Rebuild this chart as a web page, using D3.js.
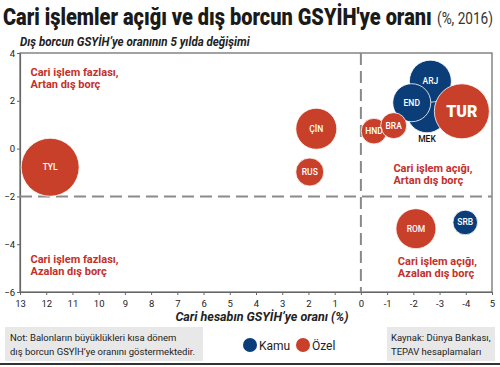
<!DOCTYPE html>
<html lang="tr">
<head>
  <meta charset='utf-8'>
  <title>Cari işlemler açığı</title>
  <script src="https://d3js.org/d3.v7.min.js"></script>
  <style>
    body { margin: 0; background: #fff; }
    svg { display: block; font-family: "Open Sans", "DejaVu Sans", sans-serif; }
  </style>
</head>
<body>
<script>
  // ulke kodlari, cari hesap / GSYIH, dis borc degisimi, balon buyuklugu
  var codes   = ["TYL", "ÇİN", "RUS", "HND", "BRA", "MEK", "END", "ARJ", "TUR", "ROM", "SRB"];
  var current = [11.85, 1.7, 1.95, -0.5, -1.25, -2.52, -1.94, -2.65, -3.85, -2.1, -3.98];
  var debt    = [-0.78, 0.83, -0.98, 0.73, 0.96, 1.5, 1.92, 2.82, 1.56, -3.35, -3.09];
  var size    = [29, 20.5, 14, 12.8, 13, 20, 19, 21, 27.5, 20, 12.3];
  var sector  = ["Özel", "Özel", "Özel", "Özel", "Özel", "Kamu", "Kamu", "Kamu", "Özel", "Özel", "Kamu"];

  var xTicks = [13, 12, 11, 10, 9, 8, 7, 6, 5, 4, 3, 2, 1, 0, -1, -2, -3, -4, -5];
  var yTicks = [4, 2, 0, -2, -4, -6];

  var quadrants = [
    { lines: ["Cari işlem fazlası,", "Artan dış borç"], x: 12.6, y: 3.05 },
    { lines: ["Cari işlem fazlası,", "Azalan dış borç"], x: 12.6, y: -4.8 },
    { lines: ["Cari işlem açığı,", "Artan dış borç"], x: -1.24, y: -0.98 },
    { lines: ["Cari işlem açığı,", "Azalan dış borç"], x: -1.41, y: -4.85 }
  ];

  var red = "#c9402a", blue = "#0b3d78", labelRed = "#c4302b";
  var color = d3.scaleOrdinal().domain(["Kamu", "Özel"]).range([blue, red]);

  var W = 500, H = 367;
  var svg = d3.select("body").append("svg").attr("width", W).attr("height", H);

  var x = d3.scaleLinear().domain([13, -5]).range([20, 492]);
  var y = d3.scaleLinear().domain([4, -6]).range([53, 292]);

  // metni verilen genislige yatayda sikistir
  function squeeze(t, left, base, width) {
    var w = t.node().getComputedTextLength();
    var k = Math.min(1, width / w);
    t.attr("x", 0).attr("y", 0)
      .attr("transform", "translate(" + left + "," + base + ") scale(" + k + ",1)");
  }

  // baslik
  var title = svg.append("text")
    .attr("font-family", "Roboto, sans-serif").attr("font-weight", 900).attr("font-size", 23)
    .attr("fill", "#1a1a1a")
    .text("Cari işlemler açığı ve dış borcun GSYİH'ye oranı");
  squeeze(title, 3, 25, 429);
  var title2 = svg.append("text")
    .attr("font-family", "Roboto, sans-serif").attr("font-size", 16)
    .attr("fill", "#333").text("(%, 2016)");
  squeeze(title2, 437, 24, 56);

  var sub = svg.append("text")
    .attr("font-family", "Roboto, sans-serif").attr("font-weight", 700).attr("font-style", "italic")
    .attr("font-size", 12)
    .attr("fill", "#222").text("Dış borcun GSYİH’ye oranının 5 yılda değişimi");
  squeeze(sub, 20, 46, 230);

  // cerceve
  svg.append("rect").attr("x", x(13)).attr("y", y(4))
    .attr("width", x(-5) - x(13)).attr("height", y(-6) - y(4))
    .attr("fill", "none").attr("stroke", "#666").attr("stroke-width", 1.2);

  // eksenler
  var xAxis = svg.append("g").attr("transform", "translate(0," + y(-6) + ")")
    .call(d3.axisBottom(x).tickValues(xTicks).tickSize(3).tickSizeOuter(0)
      .tickFormat(function (d) { return d === -5 ? "5" : d; }));
  var yAxis = svg.append("g").attr("transform", "translate(" + x(13) + ",0)")
    .call(d3.axisLeft(y).tickValues(yTicks).tickSize(3).tickSizeOuter(0));
  [xAxis, yAxis].forEach(function (g) {
    g.select(".domain").attr("stroke", "#666").attr("stroke-width", 1.2);
    g.selectAll(".tick line").attr("stroke", "#666");
    g.selectAll(".tick text").attr("font-family", "Roboto, sans-serif").attr("font-size", 9.5).attr("fill", "#222");
  });
  xAxis.selectAll(".tick text").attr("dy", "0.9em");
  yAxis.selectAll(".tick text").attr("x", -5);

  svg.append("text").attr("x", 262).attr("y", 321).attr("text-anchor", "middle")
    .attr("font-family", "Roboto, sans-serif").attr("font-weight", 700).attr("font-style", "italic")
    .attr("font-size", 12.5).attr("fill", "#222")
    .text("Cari hesabın GSYİH’ye oranı (%)");

  // kesikli cizgiler
  var dash = svg.append("g").attr("stroke", "#8a8a8a").attr("stroke-width", 2).attr("stroke-dasharray", "12,6");
  dash.append("line").attr("x1", x(13)).attr("x2", x(-5)).attr("y1", y(-2)).attr("y2", y(-2));
  dash.append("line").attr("x1", x(0)).attr("x2", x(0)).attr("y1", y(4)).attr("y2", y(-6));

  // ceyrek etiketleri
  quadrants.forEach(function (q) {
    var t = svg.append("text").attr("font-family", "Roboto, sans-serif").attr("font-weight", 700)
      .attr("font-size", 11).attr("fill", labelRed);
    q.lines.forEach(function (l, i) {
      t.append("tspan").attr("x", x(q.x)).attr("y", y(q.y) + i * 12).text(l);
    });
  });

  // balonlar
  var data = codes.map(function (c, i) {
    return { code: c, cx: current[i], cy: debt[i], r: size[i], sector: sector[i] };
  });
  var drawOrder = ["TYL", "ÇİN", "RUS", "MEK", "ARJ", "END", "TUR", "HND", "BRA", "ROM", "SRB"];
  data.sort(function (a, b) { return drawOrder.indexOf(a.code) - drawOrder.indexOf(b.code); });

  svg.append("g").selectAll("circle").data(data).join("circle")
    .attr("cx", function (d) { return x(d.cx); })
    .attr("cy", function (d) { return y(d.cy); })
    .attr("r", function (d) { return d.r; })
    .attr("fill", function (d) { return color(d.sector); })
    .attr("stroke", "#fff").attr("stroke-width", 0.8);

  svg.append("g").selectAll("text").data(data).join("text")
    .attr("x", function (d) { return x(d.cx); })
    .attr("y", function (d) { return d.code === "MEK" ? y(d.cy) + d.r + 9 : y(d.cy) + 3; })
    .attr("text-anchor", "middle")
    .attr("font-family", "Roboto, sans-serif")
    .attr("font-weight", function (d) { return d.code === "TUR" ? 900 : 500; })
    .attr("font-size", function (d) { return d.code === "TUR" ? 16 : 8.5; })
    .attr("dy", function (d) { return d.code === "TUR" ? 3 : 0; })
    .attr("fill", function (d) { return d.code === "MEK" ? "#111" : "#fff"; })
    .text(function (d) { return d.code; });

  // alt bilgi
  svg.append("rect").attr("x", 5).attr("y", 327).attr("width", 198).attr("height", 34).attr("fill", "#e8e8e8");
  svg.append("rect").attr("x", 387).attr("y", 327).attr("width", 108).attr("height", 34).attr("fill", "#e8e8e8");
  var note = svg.append("text").attr("font-family", "Roboto, sans-serif").attr("font-size", 9.5).attr("fill", "#222");
  note.append("tspan").attr("x", 10).attr("y", 341).text("Not: Balonların büyüklükleri kısa dönem");
  note.append("tspan").attr("x", 10).attr("y", 355).text("dış borcun GSYİH’ye oranını göstermektedir.");
  var src = svg.append("text").attr("font-family", "Roboto, sans-serif").attr("font-size", 9.5).attr("fill", "#222");
  src.append("tspan").attr("x", 391).attr("y", 341).text("Kaynak: Dünya Bankası,");
  src.append("tspan").attr("x", 391).attr("y", 355).text("TEPAV hesaplamaları");

  var legend = svg.append("g").selectAll("g").data(color.domain()).join("g")
    .attr("transform", function (d, i) { return "translate(" + (250 + i * 53) + ",345)"; });
  legend.append("circle").attr("r", 7).attr("fill", function (d) { return color(d); });
  legend.append("text").attr("x", 9).attr("y", 4.5)
    .attr("font-family", "Roboto, sans-serif").attr("font-size", 12).attr("fill", "#222")
    .text(function (d) { return d; });

  svg.append("line").attr("x1", 0).attr("x2", W).attr("y1", 364).attr("y2", 364)
    .attr("stroke", "#333").attr("stroke-width", 2);
</script>
</body>
</html>
